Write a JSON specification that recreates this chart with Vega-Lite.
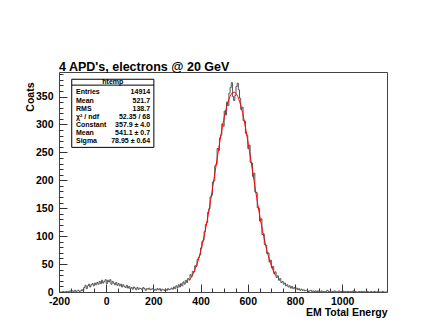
{
  "$schema": "https://vega.github.io/schema/vega-lite/v6.json",
  "width": 328,
  "height": 220,
  "autosize": "none",
  "padding": {"left": 59, "top": 72, "right": 42, "bottom": 30},
  "background": "white",
  "title": {"text": "4 APD's, electrons @ 20 GeV", "anchor": "start", "frame": "group", "font": "Liberation Sans", "fontWeight": "bold", "fontSize": 12.5, "color": "black", "baseline": "alphabetic", "offset": 4, "dy": 15},
  "config": {
    "view": {"stroke": "#444444", "strokeWidth": 1},
    "axis": {"grid": false, "domain": false, "labelFont": "Liberation Sans", "labelFontWeight": "bold", "labelFontSize": 10.5, "labelColor": "black", "tickColor": "#333333", "tickWidth": 1, "titleFont": "Liberation Sans", "titleFontWeight": "bold", "titleFontSize": 10.5, "titleColor": "black"}
  },
  "datasets": {
    "hist": [
      {"x":-200,"c":0},{"x":-195,"c":0},{"x":-190,"c":0},{"x":-185,"c":1},{"x":-180,"c":0},{"x":-175,"c":0},{"x":-170,"c":1},{"x":-165,"c":0},{"x":-160,"c":1},{"x":-155,"c":2},
      {"x":-150,"c":1},{"x":-145,"c":2},{"x":-140,"c":1},{"x":-135,"c":3},{"x":-130,"c":1},{"x":-125,"c":2},{"x":-120,"c":3},{"x":-115,"c":1},{"x":-110,"c":2},{"x":-105,"c":4},
      {"x":-100,"c":2},{"x":-95,"c":8},{"x":-90,"c":12},{"x":-85,"c":6},{"x":-80,"c":11},{"x":-75,"c":14},{"x":-70,"c":9},{"x":-65,"c":13},{"x":-60,"c":15},{"x":-55,"c":11},
      {"x":-50,"c":16},{"x":-45,"c":13},{"x":-40,"c":17},{"x":-35,"c":14},{"x":-30,"c":19},{"x":-25,"c":15},{"x":-20,"c":21},{"x":-15,"c":16},{"x":-10,"c":19},{"x":-5,"c":22},
      {"x":0,"c":15},{"x":5,"c":21},{"x":10,"c":18},{"x":15,"c":22},{"x":20,"c":14},{"x":25,"c":19},{"x":30,"c":16},{"x":35,"c":13},{"x":40,"c":17},{"x":45,"c":12},
      {"x":50,"c":15},{"x":55,"c":11},{"x":60,"c":14},{"x":65,"c":9},{"x":70,"c":13},{"x":75,"c":10},{"x":80,"c":8},{"x":85,"c":12},{"x":90,"c":7},{"x":95,"c":10},
      {"x":100,"c":6},{"x":105,"c":8},{"x":110,"c":5},{"x":115,"c":9},{"x":120,"c":7},{"x":125,"c":4},{"x":130,"c":8},{"x":135,"c":5},{"x":140,"c":7},{"x":145,"c":6},
      {"x":150,"c":4},{"x":155,"c":8},{"x":160,"c":6},{"x":165,"c":3},{"x":170,"c":6},{"x":175,"c":5},{"x":180,"c":7},{"x":185,"c":4},{"x":190,"c":5},{"x":195,"c":6},
      {"x":200,"c":3},{"x":205,"c":5},{"x":210,"c":3},{"x":215,"c":6},{"x":220,"c":4},{"x":225,"c":6},{"x":230,"c":2},{"x":235,"c":5},{"x":240,"c":4},{"x":245,"c":3},
      {"x":250,"c":5},{"x":255,"c":3},{"x":260,"c":6},{"x":265,"c":4},{"x":270,"c":5},{"x":275,"c":7},{"x":280,"c":5},{"x":285,"c":9},{"x":290,"c":6},{"x":295,"c":11},
      {"x":300,"c":8},{"x":305,"c":13},{"x":310,"c":9},{"x":315,"c":15},{"x":320,"c":11},{"x":325,"c":18},{"x":330,"c":14},{"x":335,"c":21},{"x":340,"c":17},{"x":345,"c":24},
      {"x":350,"c":22},{"x":355,"c":31},{"x":360,"c":28},{"x":365,"c":37},{"x":370,"c":36},{"x":375,"c":47},{"x":380,"c":46},{"x":385,"c":58},{"x":390,"c":62},{"x":395,"c":66},
      {"x":400,"c":79},{"x":405,"c":90},{"x":410,"c":93},{"x":415,"c":108},{"x":420,"c":121},{"x":425,"c":124},{"x":430,"c":143},{"x":435,"c":149},{"x":440,"c":170},{"x":445,"c":173},
      {"x":450,"c":197},{"x":455,"c":199},{"x":460,"c":226},{"x":465,"c":229},{"x":470,"c":257},{"x":475,"c":254},{"x":480,"c":276},{"x":485,"c":281},{"x":490,"c":301},{"x":495,"c":297},
      {"x":500,"c":324},{"x":505,"c":317},{"x":510,"c":340},{"x":515,"c":334},{"x":520,"c":356},{"x":525,"c":366},{"x":530,"c":375},{"x":535,"c":350},{"x":540,"c":343},{"x":545,"c":352},
      {"x":550,"c":368},{"x":555,"c":374},{"x":560,"c":362},{"x":565,"c":347},{"x":570,"c":327},{"x":575,"c":331},{"x":580,"c":307},{"x":585,"c":306},{"x":590,"c":284},{"x":595,"c":281},
      {"x":600,"c":257},{"x":605,"c":263},{"x":610,"c":232},{"x":615,"c":231},{"x":620,"c":207},{"x":625,"c":213},{"x":630,"c":179},{"x":635,"c":178},{"x":640,"c":151},{"x":645,"c":150},
      {"x":650,"c":127},{"x":655,"c":131},{"x":660,"c":103},{"x":665,"c":104},{"x":670,"c":85},{"x":675,"c":84},{"x":680,"c":69},{"x":685,"c":70},{"x":690,"c":54},{"x":695,"c":57},
      {"x":700,"c":43},{"x":705,"c":46},{"x":710,"c":33},{"x":715,"c":36},{"x":720,"c":26},{"x":725,"c":29},{"x":730,"c":21},{"x":735,"c":24},{"x":740,"c":17},{"x":745,"c":19},
      {"x":750,"c":14},{"x":755,"c":16},{"x":760,"c":11},{"x":765,"c":13},{"x":770,"c":9},{"x":775,"c":11},{"x":780,"c":7},{"x":785,"c":10},{"x":790,"c":6},{"x":795,"c":8},
      {"x":800,"c":5},{"x":805,"c":7},{"x":810,"c":4},{"x":815,"c":6},{"x":820,"c":3},{"x":825,"c":5},{"x":830,"c":3},{"x":835,"c":4},{"x":840,"c":2},{"x":845,"c":3},
      {"x":850,"c":3},{"x":855,"c":1},{"x":860,"c":2},{"x":865,"c":3},{"x":870,"c":1},{"x":875,"c":2},{"x":880,"c":1},{"x":885,"c":2},{"x":890,"c":0},{"x":895,"c":2},
      {"x":900,"c":1},{"x":905,"c":0},{"x":910,"c":2},{"x":915,"c":1},{"x":920,"c":1},{"x":925,"c":0},{"x":930,"c":1},{"x":935,"c":3},{"x":940,"c":1},{"x":945,"c":0},
      {"x":950,"c":1},{"x":955,"c":1},{"x":960,"c":0},{"x":965,"c":2},{"x":970,"c":1},{"x":975,"c":0},{"x":980,"c":1},{"x":985,"c":2},{"x":990,"c":0},{"x":995,"c":1},
      {"x":1000,"c":2},{"x":1005,"c":0},{"x":1010,"c":1},{"x":1015,"c":0},{"x":1020,"c":1},{"x":1025,"c":1},{"x":1030,"c":0},{"x":1035,"c":1},{"x":1040,"c":0},{"x":1045,"c":2},
      {"x":1050,"c":0},{"x":1055,"c":1},{"x":1060,"c":0},{"x":1065,"c":0},{"x":1070,"c":1},{"x":1075,"c":0},{"x":1080,"c":1},{"x":1085,"c":0},{"x":1090,"c":1},{"x":1095,"c":0},
      {"x":1100,"c":0},{"x":1105,"c":1},{"x":1110,"c":0},{"x":1115,"c":0},{"x":1120,"c":1},{"x":1125,"c":0},{"x":1130,"c":0},{"x":1135,"c":1},{"x":1140,"c":0},{"x":1145,"c":0},
      {"x":1150,"c":1},{"x":1155,"c":0},{"x":1160,"c":0},{"x":1165,"c":0},{"x":1170,"c":1},{"x":1175,"c":0},{"x":1180,"c":0},{"x":1185,"c":0},{"x":1190,"c":0}
    ],
    "fit": [
      {"x":352.5,"f":20.6},{"x":362.5,"f":27.7},{"x":372.5,"f":36.6},{"x":382.5,"f":47.6},{"x":392.5,"f":60.9},{"x":402.5,"f":76.7},{"x":412.5,"f":95.0},{"x":422.5,"f":115.8},
      {"x":432.5,"f":139.0},{"x":442.5,"f":164.1},{"x":452.5,"f":190.7},{"x":462.5,"f":218.0},{"x":472.5,"f":245.4},{"x":482.5,"f":271.7},{"x":492.5,"f":296.1},{"x":502.5,"f":317.6},
      {"x":512.5,"f":335.2},{"x":522.5,"f":348.1},{"x":532.5,"f":355.8},{"x":537.5,"f":357.5},{"x":542.5,"f":357.8},{"x":552.5,"f":354.2},{"x":562.5,"f":345.0},{"x":572.5,"f":330.7},
      {"x":582.5,"f":311.9},{"x":592.5,"f":289.5},{"x":602.5,"f":264.5},{"x":612.5,"f":237.8},{"x":622.5,"f":210.3},{"x":632.5,"f":183.1},{"x":642.5,"f":156.9},{"x":652.5,"f":132.2},
      {"x":662.5,"f":109.7},{"x":672.5,"f":89.6},{"x":682.5,"f":72.0},{"x":692.5,"f":56.9},{"x":702.5,"f":44.3},{"x":712.5,"f":33.9},{"x":717.5,"f":29.5}
    ]
  },
  "resolve": {"axis": {"x": "independent", "y": "independent"}},
  "layer": [
    {
      "data": {"name": "hist"},
      "mark": {"type": "line", "interpolate": "step-after", "color": "#555555", "strokeWidth": 1},
      "encoding": {
        "x": {"field": "x", "type": "quantitative", "scale": {"domain": [-200, 1190], "nice": false, "zero": false},
              "axis": {"orient": "bottom", "values": [-200, 0, 200, 400, 600, 800, 1000], "labelExpr": "'' + datum.value", "labelFlush": false, "labelOverlap": false, "tickSize": -8, "labelPadding": 12,
                       "title": "EM Total Energy", "titleAnchor": "end", "titleAlign": "right", "titleX": 328, "titleY": 23.5, "titleBaseline": "alphabetic"}},
        "y": {"field": "c", "type": "quantitative", "scale": {"domain": [0, 394], "nice": false, "zero": false},
              "axis": {"orient": "left", "values": [0, 50, 100, 150, 200, 250, 300, 350], "labelOverlap": false, "tickSize": -8, "labelPadding": 14,
                       "title": "Coats", "titleAngle": -90, "titleAlign": "right", "titleBaseline": "alphabetic", "titleX": -25.7, "titleY": 10}}
      }
    },
    {
      "data": {"name": "fit"},
      "mark": {"type": "line", "interpolate": "monotone", "color": "#ff0000", "strokeWidth": 1},
      "encoding": {
        "x": {"field": "x", "type": "quantitative",
              "axis": {"orient": "bottom", "values": [-200,-150,-100,-50,0,50,100,150,200,250,300,350,400,450,500,550,600,650,700,750,800,850,900,950,1000,1050,1100,1150], "labels": false, "tickSize": -4, "title": null}},
        "y": {"field": "f", "type": "quantitative",
              "axis": {"orient": "left", "values": [10,20,30,40,60,70,80,90,110,120,130,140,160,170,180,190,210,220,230,240,260,270,280,290,310,320,330,340,360,370,380,390], "labels": false, "tickSize": -4, "title": null}}
      }
    },
    {
      "data": {"values": [{}]},
      "mark": {"type": "rect", "fill": "white", "stroke": "black", "strokeWidth": 1},
      "encoding": {
        "x": {"datum": -146, "type": "quantitative", "axis": null},
        "x2": {"datum": 202},
        "y": {"datum": 381, "type": "quantitative", "axis": null},
        "y2": {"datum": 259}
      }
    },
    {
      "data": {"values": [{}]},
      "mark": {"type": "rule", "stroke": "black", "strokeWidth": 1},
      "encoding": {
        "x": {"datum": -146, "type": "quantitative", "axis": null},
        "x2": {"datum": 202},
        "y": {"datum": 370.5, "type": "quantitative", "axis": null}
      }
    },
    {
      "data": {"values": [{}]},
      "mark": {"type": "text", "font": "Liberation Sans", "fontSize": 7, "fontWeight": "bold", "align": "center", "baseline": "middle", "color": "black"},
      "encoding": {
        "x": {"datum": 28, "type": "quantitative", "axis": null},
        "y": {"datum": 376, "type": "quantitative", "axis": null},
        "text": {"value": "htemp"}
      }
    },
    {
      "data": {"values": [{}]},
      "mark": {"type": "text", "font": "Liberation Sans", "fontSize": 7, "fontWeight": "bold", "align": "left", "baseline": "top", "lineHeight": 8.1, "color": "black"},
      "encoding": {
        "x": {"datum": -128, "type": "quantitative", "axis": null},
        "y": {"datum": 364.5, "type": "quantitative", "axis": null},
        "text": {"value": ["Entries", "Mean", "RMS", "χ² / ndf", "Constant", "Mean", "Sigma"]}
      }
    },
    {
      "data": {"values": [{}]},
      "mark": {"type": "text", "font": "Liberation Sans", "fontSize": 7, "fontWeight": "bold", "align": "right", "baseline": "top", "lineHeight": 8.1, "color": "black"},
      "encoding": {
        "x": {"datum": 186, "type": "quantitative", "axis": null},
        "y": {"datum": 364.5, "type": "quantitative", "axis": null},
        "text": {"value": ["14914", "521.7", "138.7", "52.35 / 68", "357.9 ± 4.0", "541.1 ± 0.7", "78.95 ± 0.64"]}
      }
    }
  ]
}
